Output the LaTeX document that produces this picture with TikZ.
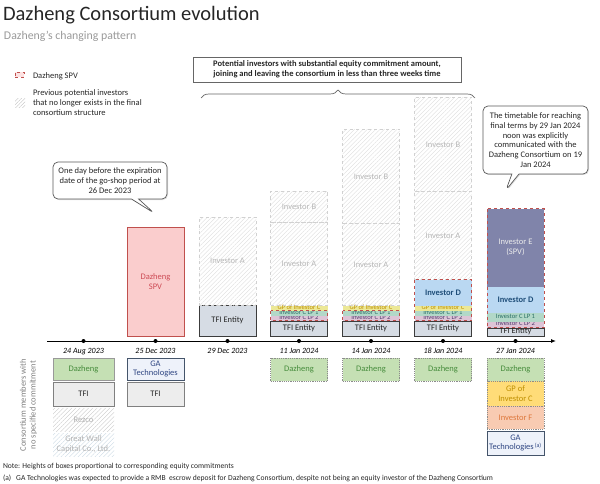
\documentclass[tikz,border=0pt]{standalone}
\usepackage{fontspec}
\setmainfont{Carlito}
\usetikzlibrary{positioning,patterns.meta,shapes.callouts,shadows,decorations.pathreplacing,arrows.meta}

\definecolor{spvred}{RGB}{192,80,77}
\definecolor{spvfill}{RGB}{250,205,205}
\definecolor{spvtext}{RGB}{205,75,85}
\definecolor{tfifill}{RGB}{214,220,228}
\definecolor{tfiline}{RGB}{60,60,60}
\definecolor{darktext}{RGB}{38,38,38}
\definecolor{gpfill}{RGB}{236,232,150}
\definecolor{gptext}{RGB}{191,143,0}
\definecolor{lp1fill}{RGB}{178,216,200}
\definecolor{lp1text}{RGB}{40,110,100}
\definecolor{lp2fill}{RGB}{222,196,214}
\definecolor{lp2text}{RGB}{80,60,110}
\definecolor{dfill}{RGB}{186,216,242}
\definecolor{dtext}{RGB}{31,78,121}
\definecolor{efill}{RGB}{128,132,170}
\definecolor{dzfill}{RGB}{197,224,180}
\definecolor{dztext}{RGB}{70,140,60}
\definecolor{memfill}{RGB}{237,237,237}
\definecolor{gafill}{RGB}{238,242,250}
\definecolor{galine}{RGB}{68,84,106}
\definecolor{gatext}{RGB}{47,70,130}
\definecolor{gpfilltwo}{RGB}{255,220,120}
\definecolor{ffill}{RGB}{248,203,178}
\definecolor{ftext}{RGB}{222,120,60}
\definecolor{wallblue}{RGB}{200,215,226}

\begin{document}
\begin{tikzpicture}[x=1pt,y=-1pt,
    every node/.style={font=\fontsize{8.5}{9.7}\selectfont, inner sep=0pt, outer sep=0pt, align=center},
    col/.style={minimum width=57pt},
    tfi/.style={col, draw=tfiline, line width=1pt, fill=tfifill, text=darktext},
    gone/.style={col, draw=black!18, dashed, pattern={Lines[angle=45,distance=3pt,line width=0.35pt]}, pattern color=black!14, text=black!28},
    slim/.style={text height=2.5pt, text depth=0pt, font=\fontsize{6.6}{7}\selectfont},
    gpc/.style={col, fill=gpfill, text=gptext, slim},
    lpone/.style={col, fill=lp1fill, text=lp1text, slim},
    lptwo/.style={col, fill=lp2fill, text=lp2text, slim},
    invd/.style={col, fill=dfill, text=dtext, font=\fontsize{8.5}{9.7}\selectfont\bfseries},
    spvline/.style={draw=spvred, dashed, line width=1pt},
    member/.style={col, minimum height=23pt, draw=black!45, dash pattern=on 1.2pt off 1pt},
    dazheng/.style={member, fill=dzfill, text=dztext},
    tfim/.style={col, draw=black!50, line width=0.8pt, fill=memfill, text=darktext},
    ga/.style={col, draw=galine, line width=0.8pt, fill=gafill, text=gatext},
    gonem/.style={col, minimum height=23pt, pattern={Lines[angle=45,distance=3pt,line width=0.35pt]}, pattern color=black!22, text=black!30},
    dot/.style={circle, fill, minimum size=4pt},
    date/.style={font=\fontsize{8}{9}\selectfont\itshape},
    notebox/.style={rectangle callout, rounded corners=5pt, draw=black!65, line width=0.7pt, fill=white,
      drop shadow={opacity=0.25, shadow xshift=1pt, shadow yshift=-1pt}}]
\useasboundingbox (0,0) rectangle (600,484);

% heading and key
\node[anchor=west, font=\fontsize{20.5}{22}\selectfont, text=darktext] (title) at (3,15) {Dazheng Consortium evolution};
\node[anchor=west, font=\fontsize{11.8}{13}\selectfont, text=black!40] (subtitle) at (4,36) {Dazheng's changing pattern};
\node[draw=spvred, dashed, line width=0.6pt, fill=spvfill!60, minimum width=9pt, minimum height=5pt] (keyspv) at (19.5,75) {};
\node[anchor=west, text=darktext] (keyspvtext) at (33,76) {Dazheng SPV};
\node[minimum width=10pt, minimum height=9pt, pattern={Lines[angle=45,distance=2.5pt,line width=0.4pt]}, pattern color=black!25] (keygone) at (20,103) {};
\node[anchor=west, align=left, text=darktext] (keygonetext) at (33,102.5) {Previous potential investors\\that no longer exists in the final\\consortium structure};

% window of three weeks
\node[draw=black!60, line width=0.7pt, fill=white, drop shadow={opacity=0.25, shadow xshift=1pt, shadow yshift=-1pt},
  minimum width=268pt, minimum height=25pt, text=darktext, font=\fontsize{8.5}{9.7}\selectfont\bfseries] (window) at (327,69.5)
  {Potential investors with substantial equity commitment amount,\\joining and leaving the consortium in less than three weeks time};
\coordinate (brl) at (201,98);
\coordinate (brr) at (475,98);
\draw[black!60, line width=0.7pt, decorate, decoration={brace, amplitude=8pt}] (brl) -- (brr);

% callouts
\node[notebox, minimum width=114pt, minimum height=37pt, callout absolute pointer={(154,213)}, text=darktext] (gonote) at (110,180.5)
  {One day before the expiration\\date of the go-shop period at\\26 Dec 2023};
\node[notebox, minimum width=105pt, minimum height=68pt, callout absolute pointer={(506,190)}, text=darktext] (tnote) at (535.5,140)
  {The timetable for reaching\\final terms by 29 Jan 2024\\noon was explicitly\\communicated with the\\Dazheng Consortium on 19\\Jan 2024};

% 25 Dec 2023
\node[col, minimum height=109pt, fill=spvfill, draw=spvred, line width=0.8pt, text=spvtext, anchor=south] (spv) at (155.5,336) {Dazheng\\SPV};

% 29 Dec 2023
\node[tfi, minimum height=31pt, anchor=south] (tfi3) at (227.5,336) {TFI Entity};
\node[gone, minimum height=88pt, above=0pt of tfi3] (a3) {Investor A};

% 11 Jan 2024
\node[tfi, minimum height=15pt, anchor=south] (tfi4) at (299,336) {TFI Entity};
\node[lptwo, minimum height=5pt, above=0.5pt of tfi4] (lp2a) {Investor C LP 2};
\node[lpone, minimum height=5pt, above=0pt of lp2a] (lp1a) {Investor C LP 1};
\node[gpc, minimum height=5pt, above=0pt of lp1a] (gpa) {GP of Investor C};
\node[gone, minimum height=83pt, above=0pt of gpa] (a4) {Investor A};
\node[gone, minimum height=31pt, above=0pt of a4] (b4) {Investor B};
\draw[spvline] (lp1a.north west) rectangle (lp2a.south east);

% 14 Jan 2024
\node[tfi, minimum height=15pt, anchor=south] (tfi5) at (371,336) {TFI Entity};
\node[lptwo, minimum height=5pt, above=0.5pt of tfi5] (lp2b) {Investor C LP 2};
\node[lpone, minimum height=5pt, above=0pt of lp2b] (lp1b) {Investor C LP 1};
\node[gpc, minimum height=5pt, above=0pt of lp1b] (gpb) {GP of Investor C};
\node[gone, minimum height=82pt, above=0pt of gpb] (a5) {Investor A};
\node[gone, minimum height=94pt, above=0pt of a5] (b5) {Investor B};
\draw[spvline] (lp1b.north west) rectangle (lp2b.south east);

% 18 Jan 2024
\node[tfi, minimum height=15pt, anchor=south] (tfi6) at (443,336) {TFI Entity};
\node[lptwo, minimum height=5pt, above=0.5pt of tfi6] (lp2c) {Investor C LP 2};
\node[lpone, minimum height=5pt, above=0pt of lp2c] (lp1c) {Investor C LP 1};
\node[gpc, minimum height=5pt, above=0pt of lp1c] (gpc) {GP of Investor C};
\node[invd, minimum height=26pt, above=0pt of gpc] (d6) {Investor D};
\node[gone, minimum height=88pt, above=0pt of d6] (a6) {Investor A};
\node[gone, minimum height=94pt, above=0pt of a6] (b6) {Investor B};
\draw[spvline] (d6.north west) rectangle (lp2c.south east);

% 27 Jan 2024
\node[tfi, minimum height=8pt, slim, font=\fontsize{8.5}{9}\selectfont, anchor=south] (tfi7) at (515.5,336) {TFI Entity};
\node[lptwo, minimum height=6pt, above=0.5pt of tfi7] (lp2d) {Investor C LP 2};
\node[lpone, minimum height=9pt, above=0pt of lp2d] (lp1d) {Investor C LP 1};
\node[invd, minimum height=26pt, above=0pt of lp1d] (d7) {Investor D};
\node[col, minimum height=78pt, fill=efill, text=white!92!black, above=0pt of d7] (e7) {Investor E\\(SPV)};
\draw[spvline] (e7.north west) rectangle (lp2d.south east);

% time line
\coordinate (axl) at (47,341);
\coordinate (axr) at (556,341);
\draw[line width=0.9pt, -{Latex[length=5pt,width=4pt]}] (axl) -- (axr);
\foreach \x/\d [count=\i] in {83.5/24 Aug 2023,155.5/25 Dec 2023,227.5/29 Dec 2023,299/11 Jan 2024,371/14 Jan 2024,443/18 Jan 2024,515.5/27 Jan 2024}{
  \node[dot] (t\i) at (\x,341) {};
  \node[date, below=5pt of t\i] (date\i) {\d};
}

% members with no specified commitment
\node[rotate=90, text=black!50] (members) at (28.5,405) {Consortium members with\\no specified commitment};
\node[dazheng, solid, draw=black!40, line width=0.8pt, minimum width=61pt, minimum height=22pt, anchor=north] (dz1) at (83.5,358) {Dazheng};
\node[tfim, minimum width=61pt, minimum height=24pt, below=2pt of dz1] (tfi1) {TFI};
\node[gonem, minimum width=61pt, below=2pt of tfi1] (rezco) {Rezco};
\node[gonem, pattern color=wallblue, minimum width=61pt, below=2pt of rezco] (wall) {Great Wall\\Capital Co., Ltd.};
\node[ga, minimum height=22pt, anchor=north] (ga2) at (155.5,358) {GA\\Technologies};
\node[tfim, minimum height=24pt, below=2pt of ga2] (tfi2) {TFI};
\foreach \x/\n in {299/4,371/5,443/6}
  \node[dazheng, anchor=north] (dz\n) at (\x,358) {Dazheng};
\node[dazheng, anchor=north] (dz7) at (515.5,358) {Dazheng};
\node[member, minimum height=25pt, fill=gpfilltwo, text=gptext, below=0pt of dz7] (gp7) {GP of\\Investor C};
\node[member, fill=ffill, text=ftext, below=0pt of gp7] (f7) {Investor F};
\node[ga, minimum height=24pt, below=2pt of f7] (ga7) {GA\\Technologies\textsuperscript{\,(a)}};

% notes
\node[anchor=west, font=\fontsize{7.6}{9}\selectfont, text=darktext] (note) at (3,467) {Note: Heights of boxes proportional to corresponding equity commitments};
\node[anchor=west, font=\fontsize{7.6}{9}\selectfont, text=darktext] (fna) at (3,478) {(a)\hspace{5pt}GA Technologies was expected to provide a RMB\ \ escrow deposit for Dazheng Consortium, despite not being an equity investor of the Dazheng Consortium};
\end{tikzpicture}
\end{document}
